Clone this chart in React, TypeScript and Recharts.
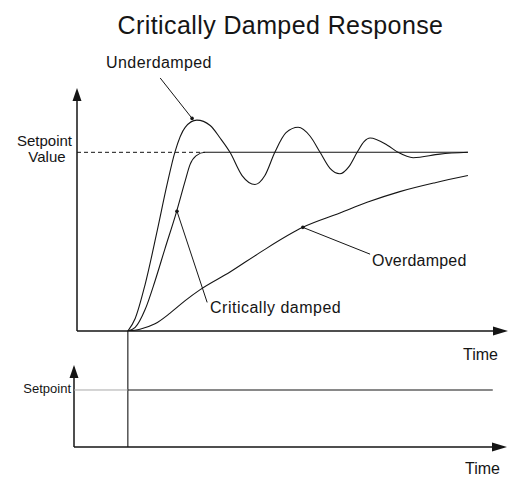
import React from 'react';
import { ComposedChart, Line, XAxis, YAxis, ReferenceLine, ReferenceDot } from 'recharts';

const W = 519;
const H = 478;
const FONT = '"Liberation Sans", Arial, Helvetica, sans-serif';
const INK = '#151515';

const stepTime = 1.18;
const setpointValue = 1;

const underdampedT = [1.18, 1.35, 1.58, 1.86, 2.09, 2.27, 2.51, 2.78, 3.09, 3.32, 3.55, 3.83, 4.13, 4.36, 4.59, 4.85, 5.13, 5.41, 5.64, 5.87, 6.1, 6.31, 6.5, 6.66, 6.8, 7.2, 7.45, 7.8, 8.42, 9.07];
const underdampedV = [0, 0.07, 0.26, 0.56, 0.82, 1.0, 1.14, 1.18, 1.15, 1.08, 1.0, 0.87, 0.82, 0.87, 1.0, 1.11, 1.14, 1.09, 1.0, 0.91, 0.88, 0.92, 1.0, 1.06, 1.08, 1.04, 1.0, 0.97, 0.99, 1.0];

const criticalT = [1.18, 1.35, 1.58, 1.81, 2.04, 2.3, 2.51, 2.62, 2.76, 2.97, 9.07];
const criticalV = [0, 0.02, 0.12, 0.28, 0.46, 0.66, 0.84, 0.93, 0.98, 1.0, 1.0];

const overdampedT = [1.18, 1.46, 1.81, 2.16, 2.51, 2.85, 3.55, 4.25, 5.24, 6.1, 6.73, 7.49, 8.31, 9.07];
const overdampedV = [0, 0.01, 0.04, 0.1, 0.17, 0.23, 0.33, 0.44, 0.58, 0.66, 0.72, 0.78, 0.83, 0.87];

const setpointT = [stepTime, 9.65];
const setpointV = [setpointValue, setpointValue];

const topXDomain = [0, 10];
const topYDomain = [0, 1.36];
const bottomXDomain = [-0.07, 9.98];
const bottomYDomain = [0, 2.035];
const bottomYAxisTop = 1.44;

// annotation pointers: [fromT, fromV, toT, toV]
const underPointer = [1.93, 1.416, 2.67, 1.19];
const criticalPointer = [3.02, 0.16, 2.32, 0.67];
const overPointer = [6.8, 0.43, 5.24, 0.58];

const zip = (ts: number[], vs: number[]) => ts.map((t, i) => ({ t, v: vs[i] }));
const underData = zip(underdampedT, underdampedV);
const criticalData = zip(criticalT, criticalV);
const overData = zip(overdampedT, overdampedV);
const setpointData = zip(setpointT, setpointV);

const UpArrow = (p: any) => (
  <polygon points={`${p.cx},${p.cy} ${p.cx - 4.5},${p.cy + 13} ${p.cx + 4.5},${p.cy + 13}`} fill={INK} />
);
const RightArrow = (p: any) => (
  <polygon points={`${p.cx},${p.cy} ${p.cx - 15},${p.cy - 4.5} ${p.cx - 15},${p.cy + 4.5}`} fill={INK} />
);
const Tip = (p: any) => <circle cx={p.cx} cy={p.cy} r={1.8} fill={INK} />;

const pointer = (ptr: number[], key: string) => [
  <ReferenceLine
    key={key + 'l'}
    segment={[{ x: ptr[0], y: ptr[1] }, { x: ptr[2], y: ptr[3] }]}
    stroke={INK}
    strokeWidth={1}
    ifOverflow="visible"
  />,
  <ReferenceDot key={key + 'd'} x={ptr[2]} y={ptr[3]} shape={Tip} ifOverflow="visible" />,
];

const axisLines = (xd: number[], yTop: number, key: string) => [
  <ReferenceLine
    key={key + 'x'}
    segment={[{ x: xd[0], y: 0 }, { x: xd[1] - 0.2, y: 0 }]}
    stroke={INK}
    strokeWidth={1.5}
    ifOverflow="visible"
  />,
  <ReferenceLine
    key={key + 'y'}
    segment={[{ x: xd[0], y: 0 }, { x: xd[0], y: yTop * 0.97 }]}
    stroke={INK}
    strokeWidth={1.5}
    ifOverflow="visible"
  />,
  <ReferenceDot key={key + 'ax'} x={xd[1]} y={0} shape={RightArrow} ifOverflow="visible" />,
  <ReferenceDot key={key + 'ay'} x={xd[0]} y={yTop} shape={UpArrow} ifOverflow="visible" />,
];

export default function App() {
  const lineProps = {
    dataKey: 'v',
    type: 'monotone' as const,
    stroke: INK,
    strokeWidth: 1.1,
    dot: false,
    activeDot: false,
    isAnimationActive: false,
  };
  return (
    <div style={{ position: 'absolute', left: 0, top: 0, width: W, height: H, background: '#fff' }}>
      <div style={{ position: 'absolute', left: 0, top: 0 }}>
        <ComposedChart width={W} height={H} margin={{ top: 88, right: 11, bottom: 147, left: 77 }}>
          <XAxis type="number" dataKey="t" domain={topXDomain} allowDataOverflow hide />
          <YAxis type="number" dataKey="v" domain={topYDomain} allowDataOverflow hide />
          {axisLines(topXDomain, topYDomain[1], 'top')}
          <ReferenceLine
            segment={[{ x: 0, y: setpointValue }, { x: 2.97, y: setpointValue }]}
            stroke={INK}
            strokeWidth={1}
            strokeDasharray="4 3"
          />
          <Line data={underData} name="Underdamped" {...lineProps} />
          <Line data={criticalData} name="Critically damped" {...lineProps} />
          <Line data={overData} name="Overdamped" {...lineProps} />
          {pointer(underPointer, 'u')}
          {pointer(criticalPointer, 'c')}
          {pointer(overPointer, 'o')}
        </ComposedChart>
      </div>
      <div style={{ position: 'absolute', left: 0, top: 0 }}>
        <ComposedChart width={W} height={H} margin={{ top: 331, right: 12, bottom: 31, left: 74 }}>
          <XAxis type="number" dataKey="t" domain={bottomXDomain} allowDataOverflow hide />
          <YAxis type="number" dataKey="v" domain={bottomYDomain} allowDataOverflow hide />
          {axisLines(bottomXDomain, bottomYAxisTop, 'bot')}
          <ReferenceLine x={stepTime} stroke={INK} strokeWidth={1.1} />
          <ReferenceLine
            segment={[{ x: bottomXDomain[0], y: setpointValue }, { x: stepTime, y: setpointValue }]}
            stroke="#a8a8a8"
            strokeWidth={1}
          />
          <Line data={setpointData} name="Setpoint" {...lineProps} type="linear" />
        </ComposedChart>
      </div>
      <svg width={W} height={H} style={{ position: 'absolute', left: 0, top: 0, pointerEvents: 'none' }} fontFamily={FONT} fill={INK}>
        <text x={280.5} y={34} fontSize={25} textAnchor="middle" letterSpacing={0.4}>Critically Damped Response</text>
        <text x={159} y={68} fontSize={16} textAnchor="middle" letterSpacing={0.4}>Underdamped</text>
        <text x={72} y={146} fontSize={15} textAnchor="end">Setpoint</text>
        <text x={47} y={162} fontSize={15} textAnchor="middle">Value</text>
        <text x={210} y={313} fontSize={16} letterSpacing={0.5}>Critically damped</text>
        <text x={372} y={266} fontSize={16} letterSpacing={0.2}>Overdamped</text>
        <text x={463} y={360} fontSize={16}>Time</text>
        <text x={71} y={393} fontSize={13} textAnchor="end">Setpoint</text>
        <text x={465} y={474} fontSize={16}>Time</text>
      </svg>
    </div>
  );
}
